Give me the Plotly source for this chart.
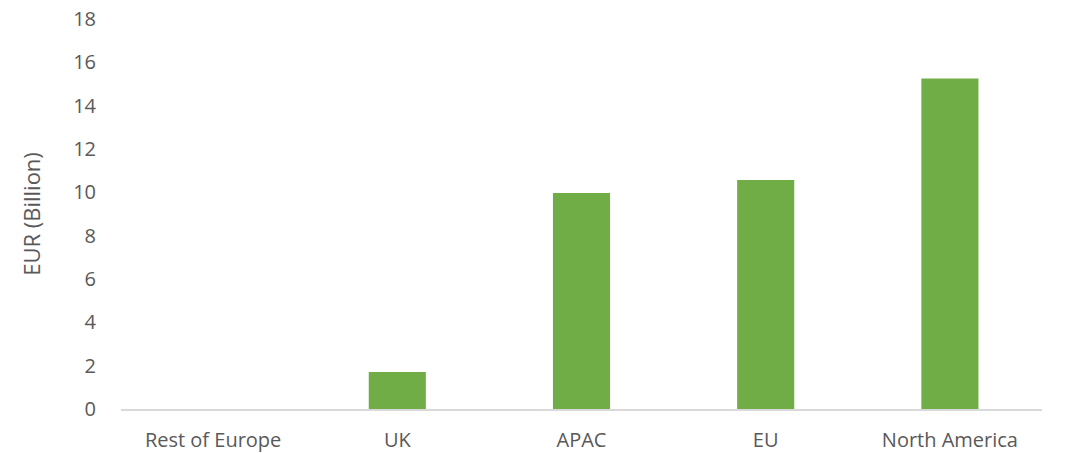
import plotly.graph_objects as go

# Regions and values (EUR billion)
regions = ["Rest of Europe", "UK", "APAC", "EU", "North America"]
values = [0.0, 1.71, 9.97, 10.57, 15.25]
y_ticks = [0, 2, 4, 6, 8, 10, 12, 14, 16, 18]

font_family = "Open Sans, Noto Sans, sans-serif"
text_color = "#595959"

fig = go.Figure(go.Bar(
    x=regions,
    y=values,
    marker=dict(color="#70AD47", line=dict(width=0)),
))

fig.update_layout(
    width=1084,
    height=453,
    margin=dict(l=121, r=42, t=19, b=44),
    paper_bgcolor="white",
    plot_bgcolor="white",
    bargap=0.69,
    showlegend=False,
    font=dict(family=font_family, size=21, color=text_color),
)

fig.update_xaxes(
    automargin=False,
    showline=True,
    linecolor="#D9D9D9",
    linewidth=2,
    showgrid=False,
    ticks="",
    ticklabelstandoff=12,
    tickfont=dict(size=20, color=text_color),
)

fig.update_yaxes(
    automargin=False,
    range=[0, 18],
    tickvals=y_ticks,
    showgrid=False,
    zeroline=False,
    showline=False,
    ticks="",
    ticklabelstandoff=24,
    tickfont=dict(size=20, color=text_color),
    title=dict(text="EUR (Billion)", font=dict(size=22, color=text_color), standoff=26),
)

# drop the default 8px page margin so the figure sits at the window's corner
fig.write_html(
    "out.html",
    config={"displayModeBar": False},
    post_script="document.body.style.margin='0px';",
)
